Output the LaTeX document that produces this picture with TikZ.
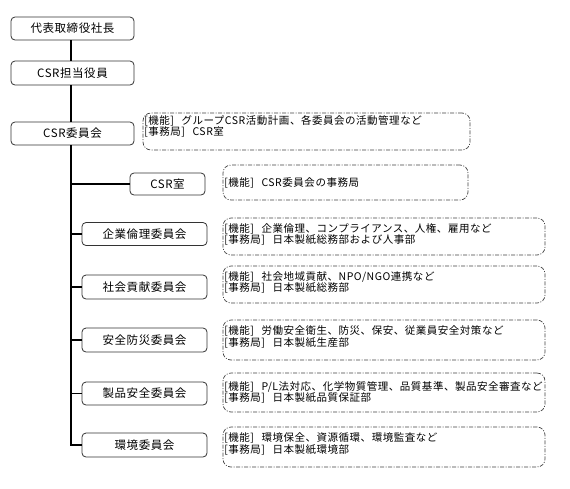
\documentclass[tikz,border=0pt]{standalone}
\usepackage{fontspec}
\setmainfont{Noto Sans CJK JP}
\newfontfamily\jpfont[LetterSpace=5]{Noto Sans CJK JP}
\begin{document}
\begin{tikzpicture}[x=1pt,y=-1pt,
  sbox/.style={draw=black!80, line width=0.8pt, rounded corners=4pt, minimum height=23pt, inner sep=0pt, font=\jpfont\fontsize{11.5}{12}\selectfont},
  dbox/.style={draw=black!75, line width=0.7pt, rounded corners=8pt, dash pattern=on 4pt off 1.5pt on 1pt off 1.5pt, inner sep=0pt},
  dtext/.style={anchor=west, inner sep=0pt, align=left, font=\jpfont\fontsize{10.5}{10.5}\selectfont},
  conn/.style={line width=1.4pt, black}]
\useasboundingbox (0,0) rectangle (570,488);
\coordinate (sp) at (71,0);
% solid boxes
\node[sbox, minimum width=123pt] (ceo) at (72.5,28.5) {代表取締役社長};
\node[sbox, minimum width=123pt, minimum height=24pt] (off) at (72.5,73) {CSR担当役員};
\node[sbox, minimum width=123pt] (com) at (72.5,133.5) {CSR委員会};
\node[sbox, minimum width=75pt, minimum height=22pt] (room) at (167.5,184) {CSR室};
\node[sbox, minimum width=125pt] (eth) at (144.5,234) {企業倫理委員会};
\node[sbox, minimum width=125pt, minimum height=24pt] (soc) at (144.5,287) {社会貢献委員会};
\node[sbox, minimum width=125pt, minimum height=24pt] (saf) at (144.5,340) {安全防災委員会};
\node[sbox, minimum width=125pt] (prd) at (144.5,393.5) {製品安全委員会};
\node[sbox, minimum width=125pt, minimum height=24pt] (env) at (144.5,445) {環境委員会};
% connectors
\draw[conn] (ceo.south -| sp) -- (off.north -| sp);
\draw[conn] (off.south -| sp) -- (com.north -| sp);
\draw[conn] (com.south -| sp) -- (env.west -| sp) -- (env.west);
\foreach \b in {room,eth,soc,saf,prd}{\draw[conn] (\b.west -| sp) -- (\b.west);}
% dashed frames
\node[dbox, minimum width=327pt, minimum height=37pt] (f0) at (306.5,131.5) {};
\node[dbox, minimum width=245pt, minimum height=35pt] (f1) at (345.5,182.5) {};
\node[dbox, minimum width=322pt, minimum height=37pt] (f2) at (384,236.5) {};
\node[dbox, minimum width=322pt, minimum height=37pt] (f3) at (384,284.5) {};
\node[dbox, minimum width=322pt, minimum height=40pt] (f4) at (384,340) {};
\node[dbox, minimum width=322pt, minimum height=39pt] (f5) at (384,392.5) {};
\node[dbox, minimum width=322pt, minimum height=40pt] (f6) at (384,447) {};
% texts
\def\gap{\hspace{7.5pt}}
\node[dtext] (t0) at ([xshift=1.5pt,yshift=5pt]f0.west) {{[}機能{]}\gap グループCSR活動計画、各委員会の活動管理など\\{[}事務局{]}\gap CSR室};
\node[dtext] (t1) at ([xshift=1.5pt]f1.west) {{[}機能{]}\gap CSR委員会の事務局};
\node[dtext] (t2) at ([xshift=1.5pt,yshift=2pt]f2.west) {{[}機能{]}\gap 企業倫理、コンプライアンス、人権、雇用など\\{[}事務局{]}\gap 日本製紙総務部および人事部};
\node[dtext] (t3) at ([xshift=1.5pt,yshift=2pt]f3.west) {{[}機能{]}\gap 社会地域貢献、NPO/NGO連携など\\{[}事務局{]}\gap 日本製紙総務部};
\node[dtext] (t4) at ([xshift=1.5pt,yshift=3pt]f4.west) {{[}機能{]}\gap 労働安全衛生、防災、保安、従業員安全対策など\\{[}事務局{]}\gap 日本製紙生産部};
\node[dtext] (t5) at ([xshift=1.5pt]f5.west) {{[}機能{]}\gap P/L法対応、化学物質管理、品質基準、製品安全審査など\\{[}事務局{]}\gap 日本製紙品質保証部};
\node[dtext] (t6) at ([xshift=1.5pt,yshift=3pt]f6.west) {{[}機能{]}\gap 環境保全、資源循環、環境監査など\\{[}事務局{]}\gap 日本製紙環境部};
\end{tikzpicture}
\end{document}
